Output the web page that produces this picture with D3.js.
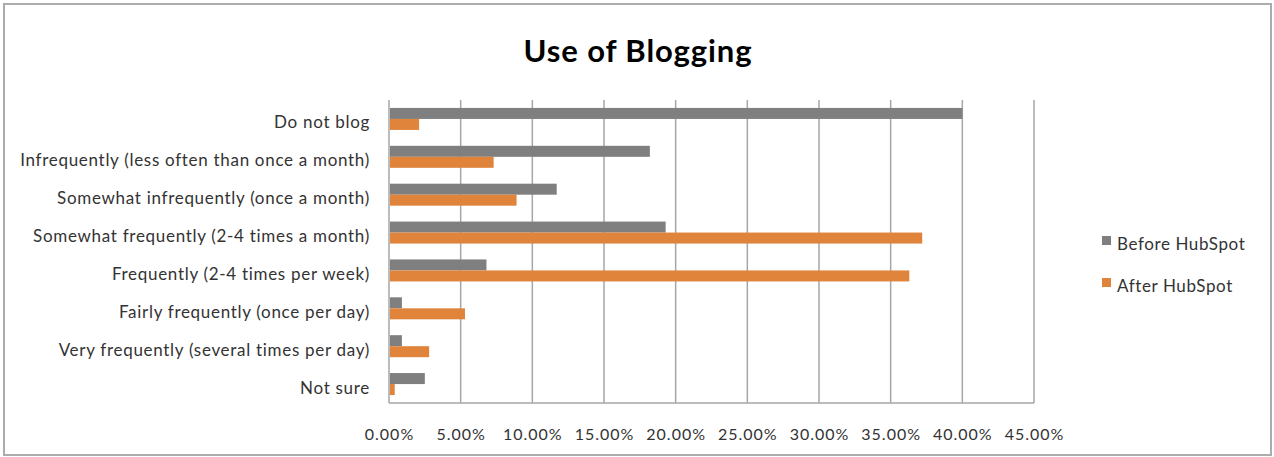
<!DOCTYPE html>
<html><head><meta charset="utf-8">
<script src="https://cdn.jsdelivr.net/npm/d3@7"></script>
<style>body{margin:0;background:#fff}svg{display:block}text{font-family:Lato,"Open Sans",sans-serif}</style>
</head><body>
<svg id="c" width="1274" height="457"></svg>
<script>
const categories = ["Do not blog","Infrequently (less often than once a month)","Somewhat infrequently (once a month)","Somewhat frequently (2-4 times a month)","Frequently (2-4 times per week)","Fairly frequently (once per day)","Very frequently (several times per day)","Not sure"];
const seriesNames = ["Before HubSpot","After HubSpot"];
const before = [40.0,18.2,11.7,19.3,6.8,0.9,0.9,2.5];
const after = [2.1,7.3,8.9,37.2,36.3,5.3,2.8,0.4];
const xTicks = [0,5,10,15,20,25,30,35,40,45];
const colors = ["#7f7f7f","#e0843c"];

const svg = d3.select("#c");
svg.append("rect").attr("x",4).attr("y",4).attr("width",1267).attr("height",451)
  .attr("fill","#fff").attr("stroke","#acacac").attr("stroke-width",2);

svg.append("text").attr("x",638).attr("y",62).attr("text-anchor","middle")
  .attr("font-size",31).attr("font-weight","bold").attr("letter-spacing",0.9).attr("fill","#000").text("Use of Blogging");

const m = {l:389, r:1034, t:100, b:403};
const x = d3.scaleLinear().domain([0,45]).range([m.l,m.r]);
const y = d3.scaleBand().domain(categories).range([m.t,m.b]);
const bh = 11;

// gridlines
svg.append("g").selectAll("line").data(xTicks).join("line")
  .attr("x1",d=>x(d)).attr("x2",d=>x(d)).attr("y1",m.t).attr("y2",m.b)
  .attr("stroke","#a6a6a6").attr("stroke-width",1.5);
svg.append("line").attr("x1",m.l).attr("x2",m.r).attr("y1",m.b).attr("y2",m.b)
  .attr("stroke","#a6a6a6").attr("stroke-width",1.5);

const data = [before, after];
data.forEach((vals,si)=>{
  svg.append("g").selectAll("rect").data(vals).join("rect")
    .attr("x",x(0)+1)
    .attr("y",(d,i)=>y(categories[i])+y.bandwidth()/2 - bh + si*bh)
    .attr("width",d=>Math.max(0,x(d)-x(0)-1))
    .attr("height",bh)
    .attr("fill",colors[si]);
});

// x axis labels
const xa = svg.append("g").attr("transform",`translate(0,${m.b})`)
  .call(d3.axisBottom(x).tickValues(xTicks).tickFormat(d=>d.toFixed(2)+"%").tickSize(0).tickPadding(26));
xa.select(".domain").remove();
xa.selectAll("text").attr("font-size",16).attr("letter-spacing",1).attr("fill","#333").style("font-family","Lato,'Open Sans',sans-serif");

// y labels
const ya = svg.append("g").attr("transform",`translate(${m.l},4)`)
  .call(d3.axisLeft(y).tickSize(0).tickPadding(19));
ya.select(".domain").remove();
ya.selectAll("text").attr("font-size",17).attr("letter-spacing",0.7).attr("fill","#333").style("font-family","Lato,'Open Sans',sans-serif");

// legend
const lg = svg.append("g");
seriesNames.forEach((n,i)=>{
  const yy = 247 + i*42;
  lg.append("rect").attr("x",1102).attr("y",yy-11).attr("width",9).attr("height",9).attr("fill",colors[i]);
  lg.append("text").attr("x",1117).attr("y",yy).attr("font-size",17).attr("letter-spacing",0.6).attr("fill","#333").attr("dominant-baseline","middle").attr("dy","-0.1em").text(n);
});
</script>
</body></html>
